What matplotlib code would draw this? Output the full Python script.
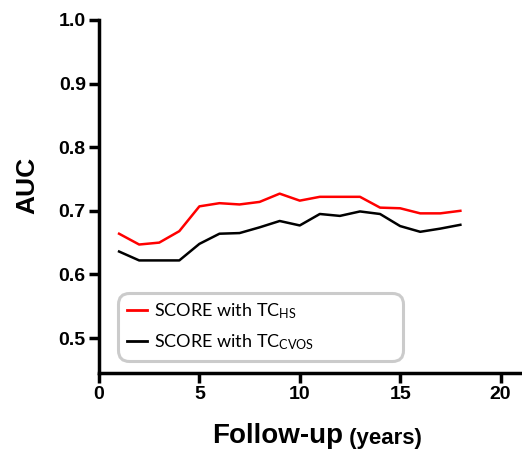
import matplotlib
matplotlib.use("Agg")
import matplotlib.pyplot as plt

# follow-up years and AUC values
years = [1, 2, 3, 4, 5, 6, 7, 8, 9, 10, 11, 12, 13, 14, 15, 16, 17, 18]
auc_hs = [0.664, 0.647, 0.650, 0.668, 0.707, 0.712, 0.710, 0.714, 0.727,
          0.716, 0.722, 0.722, 0.722, 0.705, 0.704, 0.696, 0.696, 0.700]
auc_cvos = [0.636, 0.622, 0.622, 0.622, 0.648, 0.664, 0.665, 0.674, 0.684,
            0.677, 0.695, 0.692, 0.699, 0.695, 0.676, 0.667, 0.672, 0.678]
labels = [r"SCORE with TC$_{\mathrm{HS}}$", r"SCORE with TC$_{\mathrm{CVOS}}$"]
xticks = [0, 5, 10, 15, 20]
yticks = [0.5, 0.6, 0.7, 0.8, 0.9, 1.0]

plt.rcParams["font.family"] = ["Liberation Sans", "DejaVu Sans"]
plt.rcParams["mathtext.fontset"] = "custom"
plt.rcParams["mathtext.rm"] = "Lato"
plt.rcParams["mathtext.it"] = "Lato:italic"

fig = plt.figure(figsize=(5.22, 4.5), dpi=100)
ax = fig.add_axes([99 / 522, 1 - 373 / 450, 423 / 522, 353 / 450])

ax.plot(years, auc_hs, color="#ff0000", linewidth=1.8, label=labels[0])
ax.plot(years, auc_cvos, color="black", linewidth=1.8, label=labels[1])

ax.set_xlim(0, 21.07)
ax.set_ylim(0.445, 1.0)
ax.set_xticks(xticks)
ax.set_yticks(yticks)
ax.set_xticklabels([str(t) for t in xticks])
ax.set_yticklabels([f"{t:.1f}" for t in yticks])

for side in ["top", "right"]:
    ax.spines[side].set_visible(False)
for side in ["left", "bottom"]:
    ax.spines[side].set_linewidth(2.5)
ax.tick_params(axis="both", direction="out", length=7, width=2.5, pad=2.5,
               labelsize=14)
for lab in ax.get_xticklabels() + ax.get_yticklabels():
    lab.set_fontweight("bold")

ax.set_ylabel("AUC", fontsize=19, fontweight="bold")
ax.yaxis.set_label_coords(-0.14, 0.53)

xl = ax.text(0.268, -0.198, "Follow-up", transform=ax.transAxes, ha="left",
             va="baseline", fontsize=20, fontweight="bold")
ax.annotate(" (years)", xy=(1, 0), xycoords=xl, ha="left", va="bottom",
            fontsize=16, fontweight="bold")

leg = ax.legend(loc="lower left", bbox_to_anchor=(0.045, 0.034, 0.674, 0.184),
                mode="expand", frameon=True, fancybox=True,
                prop={"family": "Lato", "size": 13},
                handlelength=1.1, handletextpad=0.4, borderpad=0.5,
                labelspacing=0.6, borderaxespad=0)
frame = leg.get_frame()
frame.set_edgecolor("#bfbfbf")
frame.set_linewidth(2.2)
frame.set_boxstyle("round,pad=0,rounding_size=0.6")
for ln in leg.get_lines():
    ln.set_linewidth(2)

fig.savefig("out.png", dpi=100)
